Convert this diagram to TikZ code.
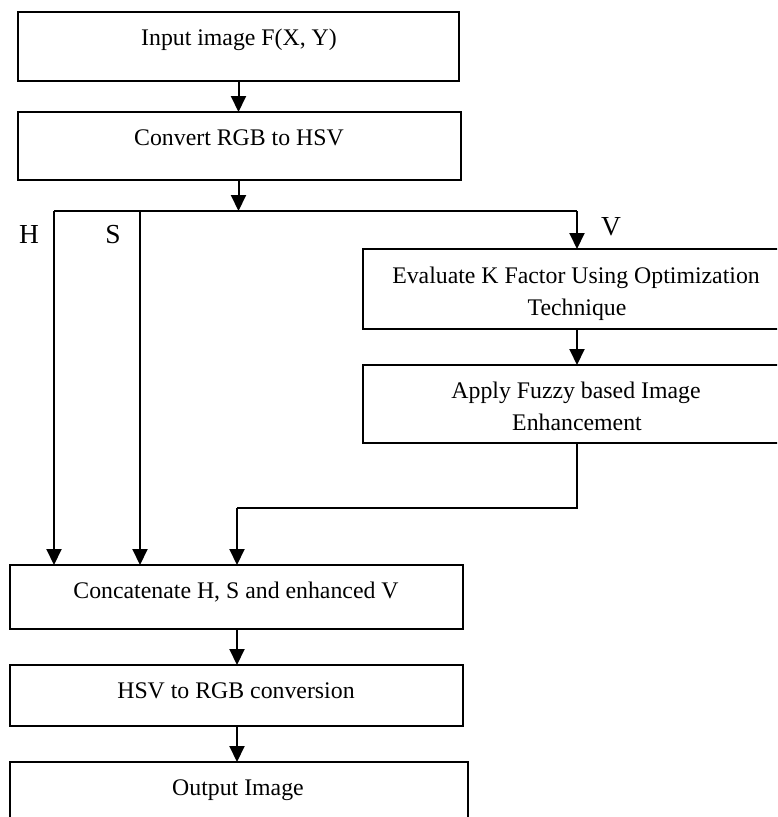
\documentclass[tikz,border=0pt]{standalone}
\usepackage{fontspec}
\setmainfont{Liberation Serif}
\usetikzlibrary{arrows.meta}
\begin{document}
\begin{tikzpicture}[x=1pt,y=-1pt,
  box/.style={draw,line width=2pt,inner sep=0pt,outer sep=0pt,anchor=north west},
  txt/.style={font=\fontsize{23.8}{32}\selectfont,inner sep=0pt,anchor=base},
  lbl/.style={font=\fontsize{27.5}{32}\selectfont,inner sep=0pt,anchor=base},
  ln/.style={line width=2pt},
  arr/.style={line width=2pt,-{Triangle[width=15pt,length=16pt]}}]
\useasboundingbox (0,0) rectangle (777,817);
\clip (0,0) rectangle (777,817);
% boxes
\node[box,minimum width=441pt,minimum height=69pt] (b1) at (18,12) {};
\node[box,minimum width=443pt,minimum height=68pt] (b2) at (18,112) {};
\node[box,minimum width=428pt,minimum height=80pt] (b3) at (363,249) {};
\node[box,minimum width=428pt,minimum height=78pt] (b4) at (363,365) {};
\node[box,minimum width=453pt,minimum height=64pt] (b5) at (10,565) {};
\node[box,minimum width=453pt,minimum height=61pt] (b6) at (10,665) {};
\node[box,minimum width=458pt,minimum height=69pt] (b7) at (10,762) {};
% texts
\node[txt] (t1) at (239,45) {Input image F(X, Y)};
\node[txt] (t2) at (239,145) {Convert RGB to HSV};
\node[txt] (t3a) at (576,283) {Evaluate K Factor Using Optimization};
\node[txt] (t3b) at (577,315) {Technique};
\node[txt] (t4a) at (576,398) {Apply Fuzzy based Image};
\node[txt] (t4b) at (577,430) {Enhancement};
\node[txt] (t5) at (236,598) {Concatenate H, S and enhanced V};
\node[txt] (t6) at (236,698) {HSV to RGB conversion};
\node[txt] (t7) at (238,795) {Output Image};
% labels
\node[lbl] (lH) at (29,243) {H};
\node[lbl] (lS) at (113,243) {S};
\node[lbl] (lV) at (611,235) {V};
% junction coordinates
\coordinate (j) at (238.5,211);
\coordinate (hL) at (54,211);
\coordinate (sL) at (140,211);
\coordinate (vR) at (577,211);
\coordinate (m) at (237,508);
% connectors
\draw[arr] (b1.south -| j) -- (b2.north -| j);
\draw[arr] (b2.south -| j) -- (j);
\draw[ln] (hL) -- (vR);
\draw[arr] (hL) -- (hL |- b5.north);
\draw[arr] (sL) -- (sL |- b5.north);
\draw[arr] (vR) -- (b3.north);
\draw[arr] (b3.south) -- (b4.north);
\draw[ln] (b4.south) -- (b4.south |- m) -- (m);
\draw[arr] (m) -- (m |- b5.north);
\draw[arr] (b5.south -| m) -- (b6.north -| m);
\draw[arr] (b6.south -| m) -- (b7.north -| m);
\end{tikzpicture}
\end{document}
